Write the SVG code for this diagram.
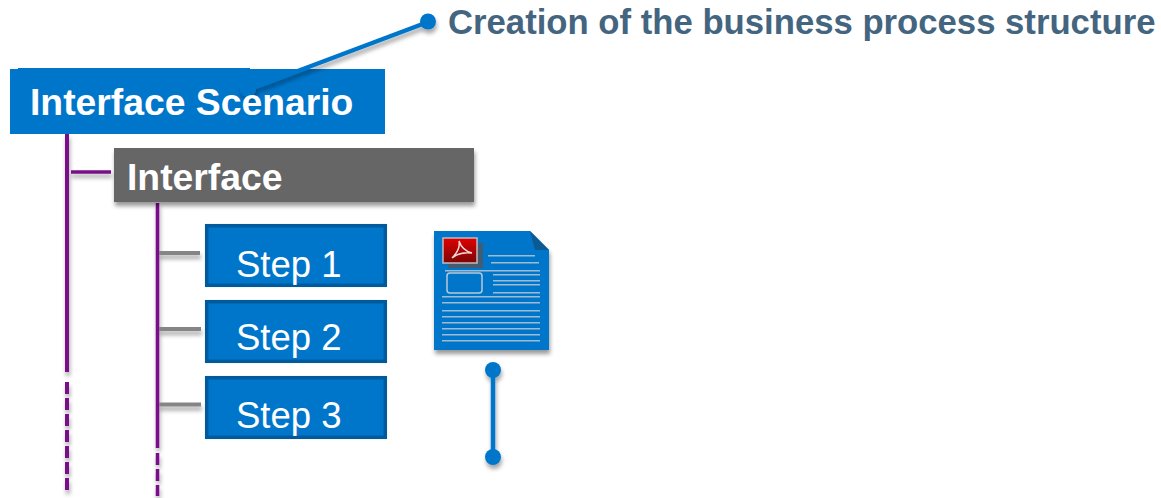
<svg xmlns="http://www.w3.org/2000/svg" width="1161" height="498" viewBox="0 0 1161 498">
<style>
text{font-family:"Liberation Sans",Arial,sans-serif}
.b{font-weight:bold;fill:#fff;font-size:37.300px}
.s{fill:#fff;font-size:36.500px}
.step{fill:#0076cb;stroke:#005a9c;stroke-width:3.5}
.p{stroke:#7a0a8a;fill:none}
.g{stroke:#858585;stroke-width:4;fill:none}
.bl{stroke:#0076cb;fill:none}
.dot{fill:#0076cb}
.sh{filter:url(#shadow)}
.line{fill:#b9c9d6;opacity:.85}
</style>
<defs>
<filter id="shadow" x="-30%" y="-30%" width="160%" height="180%"><feDropShadow dx="1" dy="4" stdDeviation="2.2" flood-color="#000" flood-opacity=".4"/></filter>
<filter id="lshadow" filterUnits="userSpaceOnUse" x="0" y="0" width="1161" height="498"><feDropShadow dx="1" dy="4" stdDeviation="2" flood-color="#000" flood-opacity=".35"/></filter>
<linearGradient id="red" x1="0" y1="0" x2="0" y2="1"><stop offset="0" stop-color="#e00000"/><stop offset="1" stop-color="#7a0606"/></linearGradient>
</defs>
<g id="interface-scenario">
<rect x="10" y="69" width="375" height="65" fill="#0076cb"/>
<rect x="18" y="68" width="232" height="2" fill="#0076cb"/>
</g>
<g id="connectors">
<g filter="url(#lshadow)">
<path class="bl" stroke-width="4.500" d="M428 22 L250 89"/>
<circle class="dot" cx="428" cy="21.500" r="8"/>
<circle class="dot" cx="248" cy="89" r="8"/>
<path class="p" stroke-width="4" d="M67 134V372"/>
<path class="p" stroke-width="4" stroke-dasharray="12 4" d="M67 382V490"/>
<path class="p" stroke-width="3.500" d="M71 172H111"/>
<path class="p" stroke-width="3.500" d="M157.500 203V448"/>
<path class="p" stroke-width="3.500" stroke-dasharray="12 4" d="M157.500 453V496"/>
<path class="g" d="M159 253H200"/>
<path class="g" d="M159 329H201"/>
<path class="g" d="M159 404.500H201"/>
<path class="bl" stroke-width="4.500" d="M493 370V457"/>
<circle class="dot" cx="493" cy="370" r="8"/>
<circle class="dot" cx="493" cy="457" r="8"/>
</g>
</g>
<text x="30" y="115" class="b">Interface Scenario</text>
<g id="interface">
<rect x="114" y="148" width="360" height="54" fill="#666" class="sh"/>
<text x="127" y="190" class="b">Interface</text>
</g>
<g id="step-1">
<rect x="206.700" y="225.700" width="178.600" height="59.600" class="step"/>
<text x="236" y="277" class="s">Step 1</text>
</g>
<g id="step-2">
<rect x="206.700" y="301.700" width="178.600" height="59.600" class="step"/>
<text x="236" y="350" class="s">Step 2</text>
</g>
<g id="step-3">
<rect x="206.700" y="377.700" width="178.600" height="59.600" class="step"/>
<text x="236" y="428" class="s">Step 3</text>
</g>
<g id="pdf-document">
<path d="M434 231H530L549 250V350H434Z" fill="#0076cb" class="sh"/>
<path d="M530 231L549 250H535Z" fill="#0a5a94"/>
<rect x="448" y="243" width="35" height="25" fill="#555" opacity=".75"/>
<rect x="443" y="238" width="34" height="25" fill="url(#red)" stroke="#c9b8b8" stroke-width="1.500"/>
<path d="M452 258C458 252 460 246 459 241C461 247 464 251 472 253C465 252 458 253 452 258Z" fill="none" stroke="#f3d8d8" stroke-width="1.500"/>
<rect x="447" y="273" width="35" height="20" rx="3" fill="none" stroke="#b9c9d6" stroke-width="1.500"/>
<path class="line" d="M488 255h47v1.500h-47zM491 262h48v1.500h-48zM445 270h95v1.500h-95zM493 274h47v1.500h-47zM493 280h47v1.500h-47zM493 284h47v1.500h-47zM493 292h47v1.500h-47zM442 296h98v1.500h-98zM442 302h98v1.500h-98zM442 310h98v1.500h-98zM442 316h98v1.500h-98zM442 322h98v1.500h-98zM442 328h98v1.500h-98zM442 334h98v1.500h-98zM442 340h98v1.500h-98z"/>
</g>
<text id="caption" x="448" y="34" font-size="34.700" font-weight="bold" fill="#44657f">Creation of the business process structure</text>
</svg>
